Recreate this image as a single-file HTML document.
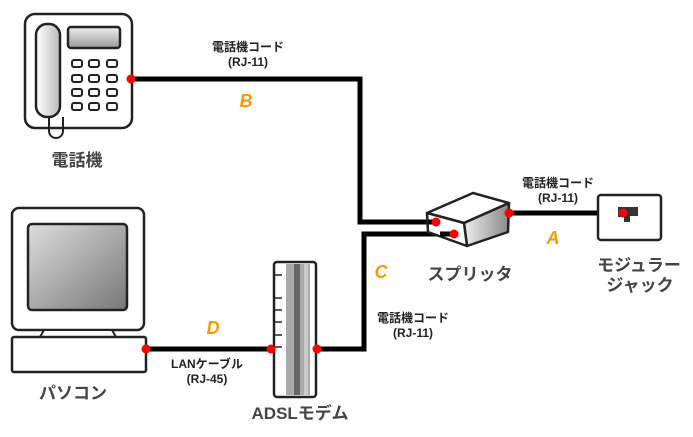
<!DOCTYPE html>
<html><head><meta charset="utf-8"><style>
html,body{margin:0;padding:0;background:#fff;}
svg{display:block;}
text{font-family:"Liberation Sans","Noto Sans CJK JP",sans-serif;font-weight:bold;}
</style></head><body>
<svg width="693" height="437" viewBox="0 0 693 437" xmlns="http://www.w3.org/2000/svg">
<defs>
<linearGradient id="scr" x1="0" y1="0" x2="1" y2="1"><stop offset="0" stop-color="#ddd"/><stop offset="1" stop-color="#777"/></linearGradient>
<linearGradient id="disp" x1="0" y1="0" x2="0" y2="1"><stop offset="0" stop-color="#eee"/><stop offset="1" stop-color="#999"/></linearGradient>
<linearGradient id="hs" x1="0" y1="0" x2="1" y2="0"><stop offset="0" stop-color="#fff"/><stop offset="1" stop-color="#bbb"/></linearGradient>
<linearGradient id="side" x1="0" y1="0" x2="1" y2="0"><stop offset="0" stop-color="#eee"/><stop offset="1" stop-color="#888"/></linearGradient>
</defs>
<g fill="none" stroke="#000" stroke-width="5">
<polyline points="131,79 360,79 360,222 436,222"/>
<polyline points="454,234 364,234 364,349 317,349"/>
<line x1="509" y1="213" x2="623" y2="213"/>
<line x1="146" y1="349" x2="271" y2="349"/>
</g>
<rect x="25" y="14" width="107" height="114" rx="10" fill="#fff" stroke="#222" stroke-width="2.5"/>
<path d="M49,117 v14 a7,7 0 0 0 14,0 v-14" fill="none" stroke="#222" stroke-width="2"/>
<rect x="36" y="24" width="24" height="93" rx="11" fill="url(#hs)" stroke="#222" stroke-width="2.5"/>
<rect x="68" y="27" width="52" height="21" rx="3" fill="url(#disp)" stroke="#222" stroke-width="2.5"/>
<g fill="#fff" stroke="#222" stroke-width="2">
<rect x="72" y="60" width="10" height="7" rx="2"/><rect x="89" y="60" width="10" height="7" rx="2"/><rect x="107" y="60" width="10" height="7" rx="2"/>
<rect x="72" y="75" width="10" height="7" rx="2"/><rect x="89" y="75" width="10" height="7" rx="2"/><rect x="107" y="75" width="10" height="7" rx="2"/>
<rect x="72" y="89" width="10" height="7" rx="2"/><rect x="89" y="89" width="10" height="7" rx="2"/><rect x="107" y="89" width="10" height="7" rx="2"/>
<rect x="72" y="103" width="10" height="7" rx="2"/><rect x="89" y="103" width="10" height="7" rx="2"/><rect x="107" y="103" width="10" height="7" rx="2"/>
</g>
<rect x="12" y="208" width="132" height="122" rx="7" fill="#fff" stroke="#222" stroke-width="2.5"/>
<rect x="28" y="224" width="99" height="86" rx="4" fill="url(#scr)" stroke="#222" stroke-width="2.5"/>
<path d="M44,330 L40,337 H116 L112,330Z" fill="#fff" stroke="#222" stroke-width="2"/>
<rect x="12" y="337" width="134" height="35" rx="2" fill="#fff" stroke="#222" stroke-width="2.5"/>
<rect x="274" y="262" width="42" height="135" rx="3" fill="#fff" stroke="#222" stroke-width="2.5"/>
<rect x="286" y="264" width="24" height="131" fill="#aaa"/>
<rect x="294" y="264" width="6" height="131" fill="#666"/>
<rect x="304" y="264" width="4" height="131" fill="#ccc"/>
<g stroke="#222" stroke-width="1.5"><line x1="275" y1="275" x2="282" y2="275"/><line x1="275" y1="298" x2="282" y2="298"/><line x1="275" y1="310" x2="282" y2="310"/><line x1="275" y1="322" x2="282" y2="322"/><line x1="275" y1="335" x2="282" y2="335"/><line x1="275" y1="347" x2="282" y2="347"/></g>
<polygon points="427,213 473,193 509,203 464,223" fill="#fff" stroke="#222" stroke-width="2.5" stroke-linejoin="round"/>
<polygon points="464,223 509,203 508,232 467,246" fill="url(#side)" stroke="#222" stroke-width="2.5" stroke-linejoin="round"/>
<polygon points="427,213 464,223 467,246 428,232" fill="#fff" stroke="#222" stroke-width="2.5" stroke-linejoin="round"/>
<line x1="436" y1="222" x2="428" y2="222" stroke="#000" stroke-width="5"/>
<line x1="454" y1="234" x2="440" y2="234" stroke="#000" stroke-width="5"/>
<rect x="598" y="195" width="63" height="45" rx="3" fill="#fff" stroke="#222" stroke-width="2.5"/>
<path d="M618,207 H638 V216 H630 V222 H624 V217 H618Z" fill="#333"/>
<g fill="#f00">
<circle cx="131" cy="79" r="4.5"/><circle cx="146" cy="349" r="4.5"/><circle cx="271" cy="349" r="4.5"/><circle cx="317" cy="349" r="4.5"/>
<circle cx="436" cy="222" r="4.5"/><circle cx="454" cy="234" r="4.5"/><circle cx="509" cy="213" r="4.5"/><circle cx="623" cy="213" r="4.5"/>
</g>
<g fill="#222" font-size="12" text-anchor="middle">
<text x="248" y="51">電話機コード</text><text x="248" y="66">(RJ-11)</text>
<text x="558" y="187">電話機コード</text><text x="558" y="202">(RJ-11)</text>
<text x="413" y="322">電話機コード</text><text x="413" y="337">(RJ-11)</text>
<text x="207" y="368">LANケーブル</text><text x="207" y="383">(RJ-45)</text>
</g>
<g fill="#444" font-size="17" text-anchor="middle">
<text x="77" y="166">電話機</text>
<text x="73" y="399">パソコン</text>
<text x="300" y="419">ADSLモデム</text>
<text x="470" y="280">スプリッタ</text>
<text x="639" y="271">モジュラー</text>
<text x="640" y="291">ジャック</text>
</g>
<g fill="#f90" font-size="18" font-style="italic" text-anchor="middle">
<text x="246" y="107">B</text>
<text x="553" y="244">A</text>
<text x="381" y="278">C</text>
<text x="213" y="334">D</text>
</g>
</svg>
</body></html>
